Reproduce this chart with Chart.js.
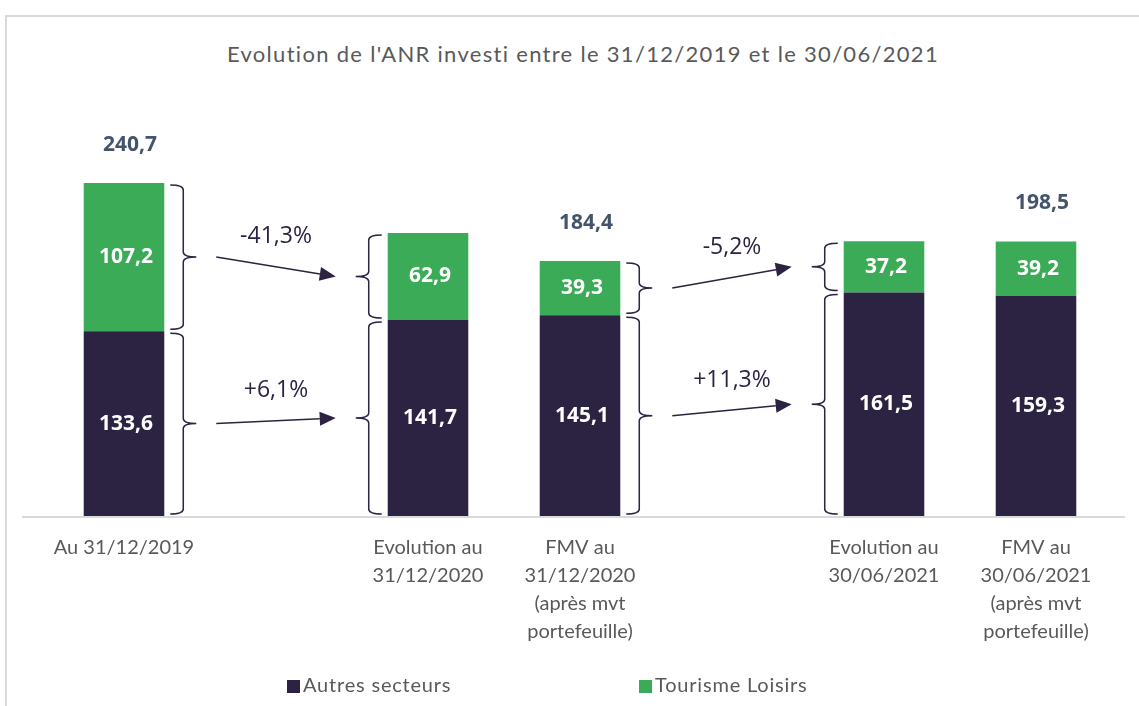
<!DOCTYPE html>
<html>
<head>
<meta charset="utf-8">
<script src="https://cdn.jsdelivr.net/npm/chart.js@4.4.0/dist/chart.umd.min.js"></script>
<style>
  body { margin: 0; background: #fff; font-family: Lato, "Open Sans", sans-serif; }
  #wrap { position: relative; width: 1139px; height: 706px; overflow: hidden; }
  #frame { position: absolute; left: 5px; top: 15px; right: -10px; bottom: -10px;
           border-top: 2px solid #d9d9d9; border-left: 2px solid #d9d9d9; }
  #title { position: absolute; left: 0; width: 1166px; top: 40px; text-align: center;
           font-size: 22px; letter-spacing: 1.3px; color: #595959; }
  canvas { position: absolute; left: 0; top: 0; }
  .leg { position: absolute; top: 672px; font-size: 20px; letter-spacing: 0.8px; color: #595959; }
  .leg span { display: inline-block; width: 13px; height: 13px; margin-right: 3px; vertical-align: -1px; }
</style>
</head>
<body>
<div id="wrap">
  <div id="frame"></div>
  <div id="title">Evolution de l'ANR investi entre le 31/12/2019 et le 30/06/2021</div>
  <canvas id="chart" width="1139" height="706"></canvas>
  <div class="leg" style="left:287px"><span style="background:#2c2242"></span>Autres secteurs</div>
  <div class="leg" style="left:639px"><span style="background:#3bab57"></span>Tourisme Loisirs</div>
</div>
<script>
// Categories (empty slots leave room for the evolution arrows)
const categories = [
  'Au 31/12/2019',
  '',
  ['Evolution au', '31/12/2020'],
  ['FMV au', '31/12/2020', '(après mvt', 'portefeuille)'],
  '',
  ['Evolution au', '30/06/2021'],
  ['FMV au', '30/06/2021', '(après mvt', 'portefeuille)']
];

const autresSecteurs = [133.6, null, 141.7, 145.1, null, 161.5, 159.3];
const tourismeLoisirs = [107.2, null, 62.9, 39.3, null, 37.2, 39.2];
const totals = [240.7, null, null, 184.4, null, null, 198.5];

// Evolutions between bars
const evolFrom = [0, 3];
const evolTo = [2, 5];
const evolTourisme = ['-41,3%', '-5,2%'];
const evolAutres = ['+6,1%', '+11,3%'];

const DARK = '#2c2242';
const GREEN = '#3bab57';
const LINE = '#2c2242';

function fmt(v) {
  return v.toFixed(1).replace('.', ',');
}

// Curly brace, dir = 1 opens to the right, -1 to the left
function drawBrace(ctx, x0, yTop, yBot, dir) {
  const xm = x0 + dir * 13;
  const xt = xm + dir * 13;
  const ymid = (yTop + yBot) / 2;
  const r = 5;
  ctx.beginPath();
  ctx.moveTo(x0, yTop);
  ctx.quadraticCurveTo(xm, yTop, xm, yTop + r);
  ctx.lineTo(xm, ymid - r);
  ctx.quadraticCurveTo(xm, ymid, xt, ymid);
  ctx.quadraticCurveTo(xm, ymid, xm, ymid + r);
  ctx.lineTo(xm, yBot - r);
  ctx.quadraticCurveTo(xm, yBot, x0, yBot);
  ctx.stroke();
  return { x: xt, y: ymid };
}

function drawArrow(ctx, x1, y1, x2, y2) {
  const a = Math.atan2(y2 - y1, x2 - x1);
  const len = 16, half = 7;
  ctx.beginPath();
  ctx.moveTo(x1, y1);
  ctx.lineTo(x2 - Math.cos(a) * len, y2 - Math.sin(a) * len);
  ctx.stroke();
  ctx.beginPath();
  ctx.moveTo(x2, y2);
  ctx.lineTo(x2 - Math.cos(a) * len - Math.sin(a) * half, y2 - Math.sin(a) * len + Math.cos(a) * half);
  ctx.lineTo(x2 - Math.cos(a) * len + Math.sin(a) * half, y2 - Math.sin(a) * len - Math.cos(a) * half);
  ctx.closePath();
  ctx.fill();
}

const annotations = {
  id: 'annotations',
  afterDatasetsDraw(chart) {
    const ctx = chart.ctx;
    const area = chart.chartArea;
    ctx.save();

    // baseline
    ctx.strokeStyle = '#d9d9d9';
    ctx.lineWidth = 2;
    ctx.beginPath();
    ctx.moveTo(22, area.bottom + 1);
    ctx.lineTo(1125, area.bottom + 1);
    ctx.stroke();

    const dark = chart.getDatasetMeta(0).data;
    const green = chart.getDatasetMeta(1).data;

    // values inside the segments
    ctx.textAlign = 'center';
    ctx.textBaseline = 'middle';
    ctx.font = 'bold 21px "Open Sans"';
    ctx.fillStyle = '#ffffff';
    categories.forEach((c, i) => {
      if (autresSecteurs[i] == null) return;
      ctx.fillText(fmt(autresSecteurs[i]), dark[i].x + 2, (dark[i].y + dark[i].base) / 2);
      ctx.fillText(fmt(tourismeLoisirs[i]), green[i].x + 2, (green[i].y + green[i].base) / 2);
    });

    // totals above
    ctx.fillStyle = '#44546a';
    totals.forEach((t, i) => {
      if (t == null) return;
      ctx.fillText(fmt(t), green[i].x + 6, green[i].y - 38);
    });

    // braces and arrows
    ctx.strokeStyle = LINE;
    ctx.fillStyle = LINE;
    ctx.lineWidth = 1.5;
    ctx.font = '23px "Open Sans"';
    evolFrom.forEach((f, k) => {
      const t = evolTo[k];
      [[green, evolTourisme[k]], [dark, evolAutres[k]]].forEach(([els, label]) => {
        const a = els[f], b = els[t];
        const s = drawBrace(ctx, a.x + a.width / 2 + 6, a.y + 2, a.base - 2, 1);
        const e = drawBrace(ctx, b.x - b.width / 2 - 6, b.y + 2, b.base - 2, -1);
        const x1 = s.x + 20, x2 = e.x - 20;
        drawArrow(ctx, x1, s.y, x2, e.y);
        ctx.fillText(label, (x1 + x2) / 2, (s.y + e.y) / 2 - 30);
      });
    });
    ctx.restore();
  }
};

const chart = new Chart(document.getElementById('chart'), {
  type: 'bar',
  data: {
    labels: categories,
    datasets: [
      { label: 'Autres secteurs', data: autresSecteurs, backgroundColor: DARK },
      { label: 'Tourisme Loisirs', data: tourismeLoisirs, backgroundColor: GREEN }
    ]
  },
  options: {
    responsive: false,
    animation: false,
    layout: { padding: { left: 48, right: 27, top: 101, bottom: 42 } },
    datasets: { bar: { barPercentage: 0.53, categoryPercentage: 1 } },
    plugins: { legend: { display: false }, title: { display: false }, tooltip: { enabled: false } },
    scales: {
      x: {
        stacked: true,
        grid: { display: false, drawTicks: false },
        border: { display: false },
        ticks: {
          autoSkip: false, maxRotation: 0, padding: 18, color: '#595959',
          font: { family: 'Lato', size: 20, lineHeight: '28px' }
        }
      },
      y: { stacked: true, display: false, min: 0, max: 300 }
    }
  },
  plugins: [annotations]
});
</script>
</body>
</html>
